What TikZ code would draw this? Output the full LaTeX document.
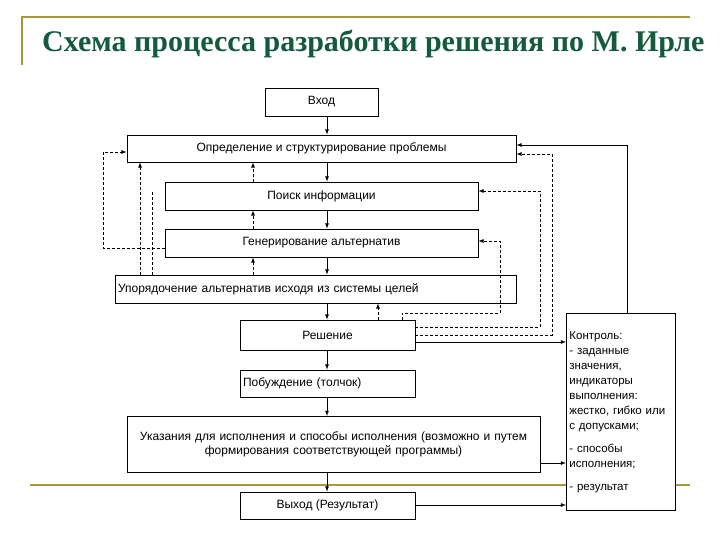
\documentclass[tikz,border=0pt]{standalone}
\usepackage{fontspec}
\setmainfont{Liberation Sans}
\newfontfamily\titlefont{Liberation Serif}
\usetikzlibrary{positioning,arrows}
\definecolor{olive}{RGB}{170,150,60}
\definecolor{titlegreen}{RGB}{20,90,60}
\tikzset{
	box/.style={draw, thick, rectangle, inner sep=0pt, font=\fontsize{12}{14}\selectfont},
	flow/.style={thick, -latex},
	back/.style={densely dashed, thick, -latex},
	backline/.style={densely dashed, thick}
}
\begin{document}
\begin{tikzpicture}[x=1pt, y=-1pt]
\useasboundingbox (0,0) rectangle (720,540);
% frame of the slide
\draw [olive, line width=1.5pt] (22,65) -- (22,17) -- (690,17);
\draw [olive, line width=1.5pt] (30,485) -- (690,485);
\node [anchor=base west, text=titlegreen, font=\titlefont\bfseries\fontsize{30}{34}\selectfont,
	inner sep=0pt] (title) at (42,52) {Схема процесса разработки решения по М. Ирле};

% boxes
\begin{scope}[every node/.append style={fill=white}]
\node [box, minimum width=113, minimum height=28] (input) at (321.5,102) {Вход};
\node [box, minimum width=389, minimum height=27] (define) at (321.5,148.5)
	{Определение и структурирование проблемы};
\node [box, minimum width=313, minimum height=28] (search) at (321.5,196) {Поиск информации};
\node [box, minimum width=313, minimum height=28] (gen) at (321.5,243) {Генерирование альтернатив};
\node [box, minimum width=401, minimum height=28, text width=395, align=left] (order) at (315.5,289)
	{Упорядочение альтернатив исходя из системы целей};
\node [box, minimum width=175, minimum height=30] (decision) at (327.5,335) {Решение};
\node [box, minimum width=175, minimum height=27, text width=169, align=left] (impulse) at (327.5,383.5)
	{Побуждение (толчок)};
\node [box, minimum width=413, minimum height=56, text width=405, align=center, anchor=north,
	inner sep=2pt] (orders) at (333.5,416)
	{Указания для исполнения и способы исполнения (возможно и путем\\формирования соответствующей программы)\\[20pt]};
\node [box, minimum width=175, minimum height=27] (output) at (327.5,505.5) {Выход (Результат)};
\node [box, minimum width=109, minimum height=197, text width=103, align=left, anchor=north west,
	inner sep=3pt, font=\fontsize{11.5}{15}\selectfont] (control) at (566,313)
	{Контроль:\\- заданные\\значения,\\индикаторы\\выполнения:\\жестко, гибко или\\с допусками;\\[8pt]- способы\\исполнения;\\[8pt]- результат\\[30pt]};
\end{scope}

% main flow
\foreach \a/\b in {input/define, define/search, search/gen, gen/order, order/decision,
	decision/impulse, impulse/orders, orders/output}{
	\draw [flow] (\a.south -| 327,0) -- (\b.north -| 327,0);
}

% feedback on the left
\foreach \a/\b in {order/gen, gen/search, search/define}{
	\draw [back] (\a.north -| 253,0) -- (\b.south -| 253,0);
}
\draw [back] (order.north -| 140,0) -- (define.south -| 140,0);
\draw [backline] (order.north -| 152,0) -- (152,190);
\coordinate (g1) at (103,248);
\coordinate (g2) at (103,152);
\draw [back] (gen.west |- g1) -- (g1) -- (g2) -- (define.west |- g2);

% feedback on the right
\draw [back] (decision.north -| 378,0) -- (order.south -| 378,0);
\coordinate (r1) at (402,313);
\coordinate (r2) at (500,313);
\coordinate (r3) at (500,241);
\draw [back] (decision.north -| r1) -- (r1) -- (r2) -- (r3) -- (gen.east |- r3);
\coordinate (s1) at (540,327);
\coordinate (s2) at (540,191);
\draw [back] (decision.east |- s1) -- (s1) -- (s2) -- (search.east |- s2);
\coordinate (t1) at (552,335);
\coordinate (t2) at (552,154);
\draw [back] (decision.east |- t1) -- (t1) -- (t2) -- (define.east |- t2);

% control
\coordinate (c1) at (627,145);
\draw [flow] (control.north -| c1) -- (c1) -- (define.east |- c1);
\draw [flow] (decision.east |- 0,342) -- (control.west |- 0,342);
\draw [flow] (orders.east |- 0,463) -- (control.west |- 0,463);
\draw [flow] (output.east |- 0,505) -- (control.west |- 0,505);
\end{tikzpicture}
\end{document}
